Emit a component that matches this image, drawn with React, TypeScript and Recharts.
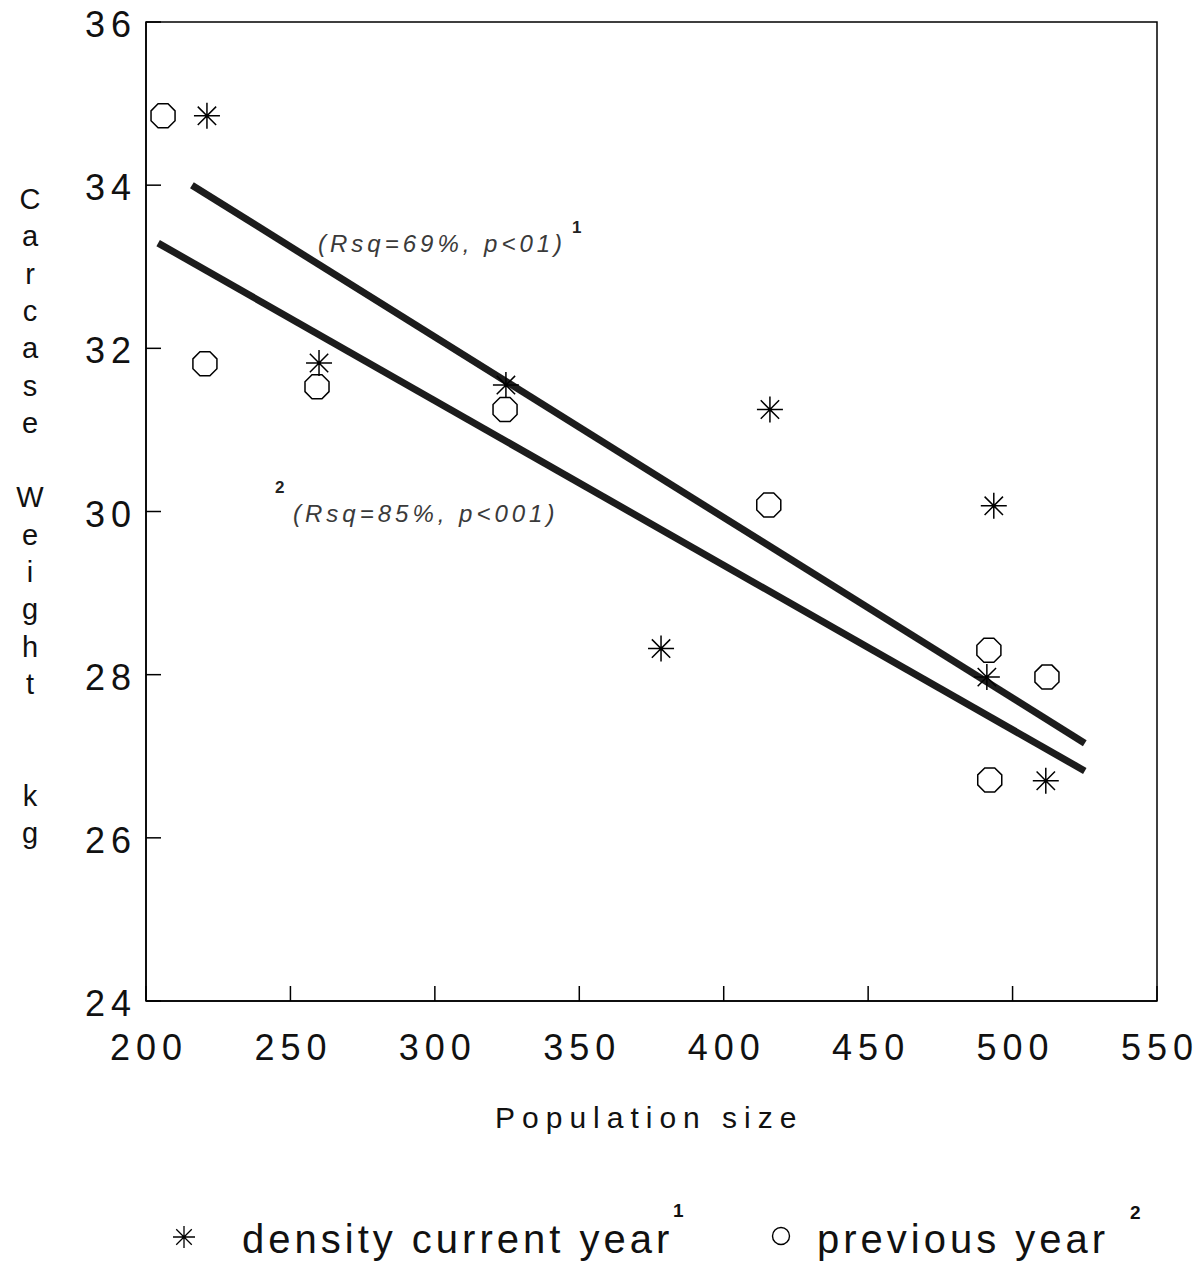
import {
  ScatterChart,
  Scatter,
  XAxis,
  YAxis,
  ReferenceLine,
  ReferenceArea,
  Legend,
} from 'recharts';

// density current year (stars)
const popCurrent = [221.1, 259.9, 324.6, 378.3, 416.0, 493.5, 491.1, 511.5];
const weightCurrent = [34.85, 31.82, 31.55, 28.32, 31.25, 30.07, 27.97, 26.7];

// previous year (octagons)
const popPrevious = [205.9, 220.4, 259.2, 324.3, 415.6, 491.8, 511.9, 492.1];
const weightPrevious = [34.85, 31.81, 31.53, 31.25, 30.08, 28.3, 27.97, 26.71];

// fitted regression line end points
const fitCurrentX = [215.9, 525.0];
const fitCurrentY = [34.0, 27.16];
const fitPreviousX = [204.2, 525.0];
const fitPreviousY = [33.29, 26.82];

const xTicks = [200, 250, 300, 350, 400, 450, 500, 550];
const yTicks = [24, 26, 28, 30, 32, 34, 36];

const yLabelLetters = 'Carcase Weight  kg'.split('');

const currentData = popCurrent.map((x, i) => ({ x, y: weightCurrent[i] }));
const previousData = popPrevious.map((x, i) => ({ x, y: weightPrevious[i] }));

const FONT = '"Liberation Sans", Arial, sans-serif';

function starPath(cx: number, cy: number, r: number) {
  let d = '';
  for (let k = 0; k < 4; k++) {
    const a = (k * Math.PI) / 4;
    const dx = r * Math.cos(a);
    const dy = r * Math.sin(a);
    d += `M${cx - dx},${cy - dy}L${cx + dx},${cy + dy}`;
  }
  return d;
}

function octagonPoints(cx: number, cy: number, r: number) {
  const pts = [];
  for (let k = 0; k < 8; k++) {
    const a = Math.PI / 8 + (k * Math.PI) / 4;
    pts.push(`${cx + r * Math.cos(a)},${cy + r * Math.sin(a)}`);
  }
  return pts.join(' ');
}

const StarShape = (props: any) => (
  <path d={starPath(props.cx, props.cy, 13)} stroke="#000" strokeWidth={1.5} fill="none" />
);

const OctagonShape = (props: any) => (
  <polygon points={octagonPoints(props.cx, props.cy, 13)} stroke="#000" strokeWidth={1.5} fill="#fff" />
);

const XTick = (props: any) => (
  <text
    x={props.x + 3}
    y={props.y + 59}
    textAnchor="middle"
    fontFamily={FONT}
    fontSize={36}
    letterSpacing={6}
    fill="#111"
  >
    {props.payload.value}
  </text>
);

const YTick = (props: any) => (
  <text
    x={props.x - 9}
    y={props.y + 15}
    textAnchor="end"
    fontFamily={FONT}
    fontSize={36}
    letterSpacing={6}
    fill="#111"
  >
    {props.payload.value}
  </text>
);

// legend svg spans page y 1190..1262
const LegendContent = () => (
  <svg width={1202} height={72} style={{ display: 'block' }}>
    <path d={starPath(184, 47, 11)} stroke="#000" strokeWidth={1.3} fill="none" />
    <text x={242} y={63} fontFamily={FONT} fontSize={40} letterSpacing={4} fill="#111">
      density current year
    </text>
    <text x={673} y={27} fontFamily={FONT} fontSize={19} fontWeight="bold" fill="#111">
      1
    </text>
    <circle cx={781} cy={46} r={8.5} stroke="#000" strokeWidth={1.4} fill="none" />
    <text x={817} y={63} fontFamily={FONT} fontSize={40} letterSpacing={4} fill="#111">
      previous year
    </text>
    <text x={1130} y={29} fontFamily={FONT} fontSize={19} fontWeight="bold" fill="#111">
      2
    </text>
  </svg>
);

export default function App() {
  return (
    <div style={{ position: 'absolute', left: 0, top: 0, width: 1202, height: 1262, background: '#fff' }}>
      <ScatterChart width={1202} height={1262} margin={{ top: 22, right: 45, left: 0, bottom: 0 }}>
        <ReferenceArea x1={200} x2={550} y1={24} y2={36} fill="none" fillOpacity={0} stroke="#000" strokeWidth={1.5} />
        <XAxis
          type="number"
          dataKey="x"
          domain={[200, 550]}
          ticks={xTicks}
          height={261}
          axisLine={{ stroke: '#000', strokeWidth: 1.5 }}
          tickLine={{ stroke: '#000', strokeWidth: 1.5 }}
          tickSize={-15}
          tickMargin={15}
          tick={<XTick />}
          interval={0}
        />
        <YAxis
          type="number"
          dataKey="y"
          domain={[24, 36]}
          ticks={yTicks}
          width={146}
          axisLine={{ stroke: '#000', strokeWidth: 1.5 }}
          tickLine={{ stroke: '#000', strokeWidth: 1.5 }}
          tickSize={-15}
          tickMargin={15}
          tick={<YTick />}
          interval={0}
        />
        <ReferenceLine
          segment={[
            { x: fitCurrentX[0], y: fitCurrentY[0] },
            { x: fitCurrentX[1], y: fitCurrentY[1] },
          ]}
          stroke="#1c1c1c"
          strokeWidth={7}
        />
        <ReferenceLine
          segment={[
            { x: fitPreviousX[0], y: fitPreviousY[0] },
            { x: fitPreviousX[1], y: fitPreviousY[1] },
          ]}
          stroke="#1c1c1c"
          strokeWidth={7}
        />
        <Scatter name="previous year" data={previousData} shape={OctagonShape} isAnimationActive={false} />
        <Scatter name="density current year" data={currentData} shape={StarShape} isAnimationActive={false} />
        <Legend
          verticalAlign="middle"
          align="center"
          layout="horizontal"
          content={LegendContent}
          wrapperStyle={{ top: 1190, left: 0, width: 1202, height: 72 }}
        />
      </ScatterChart>

      <svg
        width={1202}
        height={1262}
        style={{ position: 'absolute', left: 0, top: 0, pointerEvents: 'none' }}
      >
        {yLabelLetters.map((ch, i) =>
          ch === ' ' ? null : (
            <text key={i} x={30} y={209 + i * 37.3} textAnchor="middle" fontFamily={FONT} fontSize={29} fill="#111">
              {ch}
            </text>
          )
        )}
        <text x={495} y={1128} fontFamily={FONT} fontSize={30} letterSpacing={7} fill="#111">
          Population size
        </text>
        <text x={318} y={252} fontFamily={FONT} fontSize={24} fontStyle="italic" letterSpacing={4} fill="#3a3a3a">
          (Rsq=69%, p&lt;01)
        </text>
        <text x={572} y={233} fontFamily={FONT} fontSize={17} fontWeight="bold" fill="#222">
          1
        </text>
        <text x={275} y={493} fontFamily={FONT} fontSize={17} fontWeight="bold" fill="#222">
          2
        </text>
        <text x={293} y={522} fontFamily={FONT} fontSize={24} fontStyle="italic" letterSpacing={4} fill="#3a3a3a">
          (Rsq=85%, p&lt;001)
        </text>
      </svg>
    </div>
  );
}
